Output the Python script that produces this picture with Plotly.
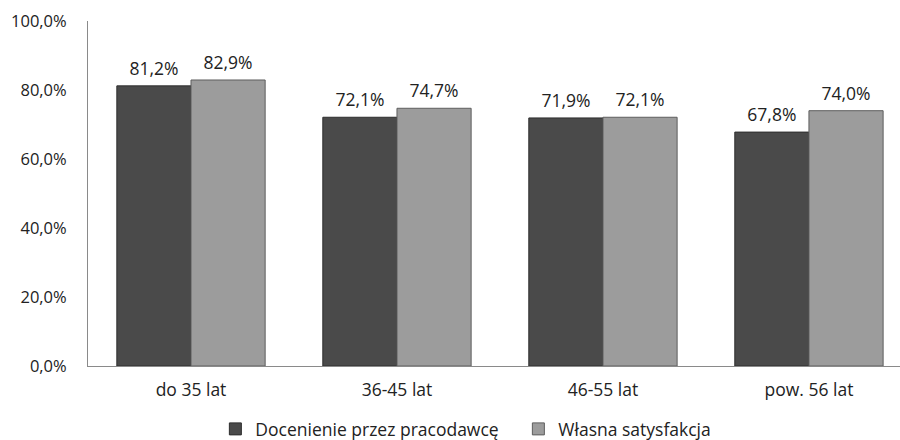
import plotly.graph_objects as go

categories = ["do 35 lat", "36-45 lat", "46-55 lat", "pow. 56 lat"]
docenienie = [81.2, 72.1, 71.9, 67.8]
satysfakcja = [82.9, 74.7, 72.1, 74.0]
series_names = ["Docenienie przez pracodawcę", "Własna satysfakcja"]
tick_vals = [0, 20, 40, 60, 80, 100]
tick_text = [f"{v:.1f}%".replace(".", ",") for v in tick_vals]

FONT = "'Open Sans', sans-serif"
colors = ["#4a4a4a", "#9c9c9c"]
edges = ["#2e2e2e", "#5e5e5e"]

fig = go.Figure()
for i, (name, vals) in enumerate(zip(series_names, [docenienie, satysfakcja])):
    fig.add_trace(go.Bar(
        x=categories, y=vals, name=name, offsetgroup=str(i), showlegend=False,
        marker=dict(color=colors[i], line=dict(color=edges[i], width=1)),
    ))
for i, (name, vals) in enumerate(zip(series_names, [docenienie, satysfakcja])):
    fig.add_trace(go.Scatter(
        x=categories, y=vals, mode="markers+text", offsetgroup=str(i), showlegend=False,
        text=[f"{v:.1f}%".replace(".", ",") for v in vals], textposition="top center",
        marker=dict(size=9, opacity=0), cliponaxis=False,
        textfont=dict(size=17.5, color="#222", family=FONT), hoverinfo="skip",
    ))
for i, name in enumerate(series_names):
    fig.add_trace(go.Scatter(
        x=[None], y=[None], mode="markers", name=name,
        marker=dict(symbol="square", size=12, color=colors[i], line=dict(color=edges[i], width=1)),
    ))

fig.update_layout(
    width=900, height=440,
    margin=dict(l=88, r=0, t=21, b=74, autoexpand=False),
    paper_bgcolor="white", plot_bgcolor="white",
    barmode="group", bargap=0.28, bargroupgap=0.0,
    scattermode="group", scattergap=0.28,
    font=dict(family=FONT, size=17.5, color="#222"),
    xaxis=dict(range=[-0.5, 3.442], showline=True, linecolor="#8a8a8a", linewidth=1,
               ticks="", tickfont=dict(size=17.5), showgrid=False, ticklabelstandoff=8,
               automargin=False),
    yaxis=dict(range=[0, 100], tickvals=tick_vals, ticktext=tick_text,
               showline=True, linecolor="#8a8a8a", linewidth=1, showgrid=False,
               ticks="", ticklabelstandoff=17, tickfont=dict(size=16.5), zeroline=False,
               automargin=False),
    legend=dict(orientation="h", x=0.53, xanchor="center", yref="container",
                y=0.025, yanchor="middle", font=dict(size=17.5), itemwidth=30,
                entrywidth=258, entrywidthmode="pixels"),
)

fig.write_html("out.html")
